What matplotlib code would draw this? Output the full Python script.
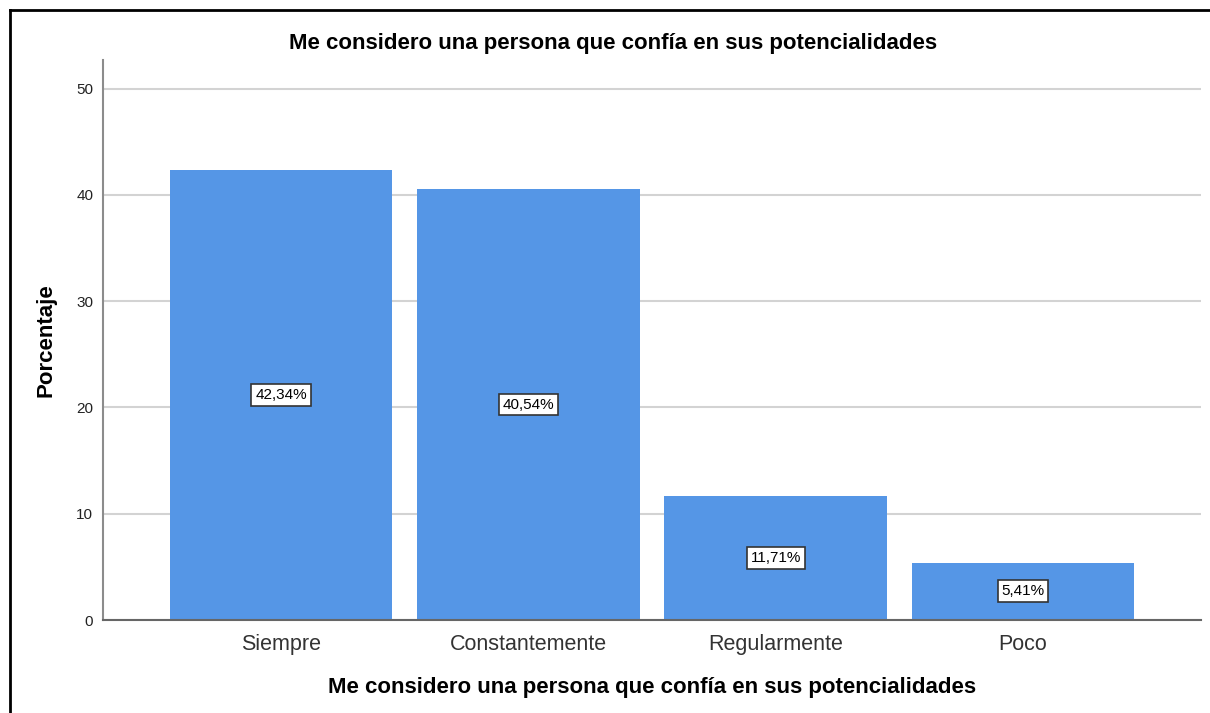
import matplotlib
matplotlib.use("Agg")
import matplotlib.pyplot as plt
from matplotlib.lines import Line2D

categories = ["Siempre", "Constantemente", "Regularmente", "Poco"]
percentages = [42.34, 40.54, 11.71, 5.41]
yticks = [0, 10, 20, 30, 40, 50]
title = "Me considero una persona que confía en sus potencialidades"

plt.rcParams["font.family"] = ["Liberation Sans", "DejaVu Sans"]

W, H = 1210, 713
fig = plt.figure(figsize=(W / 100, H / 100), dpi=100)
ax = fig.add_axes([103 / W, (H - 620) / H, (1201 - 103) / W, (620 - 60) / H])

x = list(range(len(categories)))
ax.bar(x, percentages, width=0.9, color="#5596e6", zorder=2)

for xi, val in zip(x, percentages):
    ax.text(xi, val / 2, f"{val:.2f}%".replace(".", ","), ha="center", va="center",
            fontsize=11, zorder=3,
            bbox=dict(boxstyle="square,pad=0.25", fc="white", ec="#333333", lw=1.2))

ax.set_xlim(-0.72, 3.72)
ax.set_ylim(0, 52.7)
ax.set_yticks(yticks)
ax.set_xticks(x)
ax.set_xticklabels(categories, fontsize=15.5, color="#333333")
ax.tick_params(axis="x", length=0, pad=10)
ax.tick_params(axis="y", length=0, labelsize=11, pad=7, labelcolor="#222222")
ax.yaxis.grid(True, color="#d3d3d3", lw=1.5, zorder=0)
ax.set_axisbelow(True)

for side in ["top", "right"]:
    ax.spines[side].set_visible(False)
ax.spines["left"].set_color("#8c8c8c")
ax.spines["left"].set_linewidth(1.5)
ax.spines["bottom"].set_color("#666666")
ax.spines["bottom"].set_linewidth(1.5)

ax.set_xlabel(title, fontsize=16, fontweight="bold")
ax.xaxis.set_label_coords(0.5, (620 - 677) / 560)
ax.set_ylabel("Porcentaje", fontsize=16, fontweight="bold")
ax.yaxis.set_label_coords((57 - 103) / 1098, 0.5)
fig.text(613 / W, 1 - 43 / H, title, ha="center", va="center",
         fontsize=16, fontweight="bold")

# screenshot frame (left and top edges)
fig.add_artist(Line2D([10 / W, 10 / W], [0, 1 - 10 / H], transform=fig.transFigure,
                      color="black", lw=2))
fig.add_artist(Line2D([10 / W, 1], [1 - 10 / H, 1 - 10 / H], transform=fig.transFigure,
                      color="black", lw=2))

fig.savefig("out.png", dpi=100)
